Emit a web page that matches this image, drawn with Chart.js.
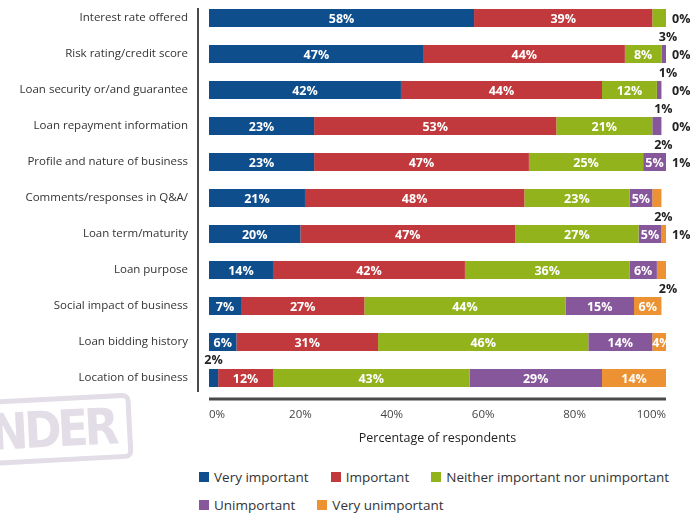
<!DOCTYPE html>
<html>
<head>
<meta charset="utf-8">
<script src="https://cdn.jsdelivr.net/npm/chart.js@4"></script>
<style>
  body { margin: 0; background: #fff; font-family: "Open Sans", sans-serif; }
  #wrap { position: relative; width: 690px; height: 515px; overflow: hidden; }
  #chart { position: absolute; left: 0; top: 0; }
  #stamp {
    position: absolute; left: -40px; top: 397px; width: 150px; height: 56px;
    border: 5px solid #e2dde6; border-radius: 8px; transform: rotate(-3deg);
    color: #e2dde6; font: bold 50px/56px "DejaVu Sans Condensed", sans-serif;
    text-align: right; padding-right: 12px; letter-spacing: -4px;
  }
  #legend { position: absolute; left: 199px; top: 468px; width: 491px; font-size: 13.5px; color: #333; }
  #legend .row { display: flex; height: 28px; align-items: flex-start; }
  #legend .item { display: flex; align-items: center; margin-right: 22px; height: 18px; white-space: nowrap; }
  #legend .box { width: 10px; height: 10px; margin-right: 5px; }
</style>
</head>
<body>
<div id="wrap">
  <div id="stamp">NDER</div>
  <canvas id="chart" width="690" height="455"></canvas>
  <div id="legend"></div>
</div>
<script>
const categories = [
  'Interest rate offered',
  'Risk rating/credit score',
  'Loan security or/and guarantee',
  'Loan repayment information',
  'Profile and nature of business',
  'Comments/responses in Q&A/',
  'Loan term/maturity',
  'Loan purpose',
  'Social impact of business',
  'Loan bidding history',
  'Location of business',
];

const seriesNames = [
  'Very important',
  'Important',
  'Neither important nor unimportant',
  'Unimportant',
  'Very unimportant',
];

const veryImportant = [58, 47, 42, 23, 23, 21, 20, 14, 7, 6, 2];
const important = [39, 44, 44, 53, 47, 48, 47, 42, 27, 31, 12];
const neither = [3, 8, 12, 21, 25, 23, 27, 36, 44, 46, 43];
const unimportant = [0, 1, 1, 2, 5, 5, 5, 6, 15, 14, 29];
const veryUnimportant = [0, 0, 0, 0, 1, 2, 1, 2, 6, 4, 14];

const xTicks = [0, 20, 40, 60, 80, 100];

const colors = ['#0f4e8d', '#c1393c', '#93b31c', '#87579b', '#ec9232'];
const seriesData = [veryImportant, important, neither, unimportant, veryUnimportant];

// labels inside the bars, small ones outside
const segLabels = {
  id: 'segLabels',
  afterDatasetsDraw(chart) {
    const ctx = chart.ctx;
    const n = chart.data.datasets.length;
    ctx.save();
    ctx.font = 'bold 12.5px "Open Sans"';
    ctx.textBaseline = 'middle';
    ctx.textAlign = 'center';
    chart.data.datasets.forEach((ds, di) => {
      const meta = chart.getDatasetMeta(di);
      meta.data.forEach((bar, i) => {
        const v = ds.data[i];
        const txt = v + '%';
        const last = di === n - 1;
        if (v >= 4) {
          ctx.fillStyle = '#fff';
          ctx.fillText(txt, (bar.x + bar.base) / 2, bar.y + 1);
        } else if (last && v <= 1) {
          ctx.fillStyle = '#222';
          ctx.textAlign = 'left';
          ctx.fillText(txt, chart.chartArea.right + 6, bar.y + 1);
          ctx.textAlign = 'center';
        } else if (v === 0) {
          return;
        } else if (di === 0) {
          ctx.fillStyle = '#222';
          ctx.fillText(txt, (bar.x + bar.base) / 2, bar.y - 18);
        } else {
          ctx.fillStyle = '#222';
          ctx.fillText(txt, bar.x + 2, bar.y + 19);
        }
      });
    });
    ctx.restore();
  },
};

// axis lines sit a bit outside the plot area
const axisLines = {
  id: 'axisLines',
  afterDraw(chart) {
    const { ctx, chartArea } = chart;
    ctx.save();
    ctx.strokeStyle = '#4a4a4a';
    ctx.lineWidth = 2;
    ctx.beginPath();
    ctx.moveTo(chartArea.left - 11, chartArea.top + 8);
    ctx.lineTo(chartArea.left - 11, chartArea.bottom - 4);
    ctx.stroke();
    ctx.lineWidth = 3;
    ctx.beginPath();
    ctx.moveTo(chartArea.left, chartArea.bottom + 3);
    ctx.lineTo(chartArea.right, chartArea.bottom + 3);
    ctx.stroke();
    ctx.restore();
  },
};

new Chart(document.getElementById('chart'), {
  type: 'bar',
  data: {
    labels: categories,
    datasets: seriesNames.map((name, k) => ({
      label: name,
      data: seriesData[k],
      backgroundColor: colors[k],
      borderWidth: 0,
      barPercentage: 0.5,
      categoryPercentage: 1,
    })),
  },
  options: {
    indexAxis: 'y',
    responsive: false,
    animation: false,
    layout: { padding: { top: 0, right: 24, left: 0, bottom: 0 } },
    plugins: {
      legend: { display: false },
      tooltip: { enabled: false },
    },
    scales: {
      x: {
        stacked: true,
        min: 0,
        max: 100,
        afterBuildTicks: (s) => { s.ticks = xTicks.map((v) => ({ value: v })); },
        afterFit: (s) => { s.height = 59; },
        grid: { display: false },
        border: { display: false },
        ticks: {
          align: 'inner',
          padding: 4,
          color: '#444',
          font: { family: 'Open Sans', size: 11.5 },
          callback: (v) => v + '%',
        },
        title: {
          display: true,
          text: 'Percentage of respondents',
          color: '#222',
          font: { family: 'Open Sans', size: 12.5 },
          padding: { top: 10, bottom: 9 },
        },
      },
      y: {
        stacked: true,
        afterFit: (s) => { s.width = 209; s.paddingTop = 0; s.paddingBottom = 0; },
        grid: { display: false },
        border: { display: false },
        ticks: {
          padding: 13,
          color: '#333',
          font: { family: 'Open Sans', size: 11.5 },
        },
      },
    },
  },
  plugins: [segLabels, axisLines],
});

// legend in two rows as in the original
const legendRows = [[0, 1, 2], [3, 4]];
const legend = document.getElementById('legend');
legendRows.forEach((row) => {
  const r = document.createElement('div');
  r.className = 'row';
  row.forEach((k) => {
    const it = document.createElement('div');
    it.className = 'item';
    it.innerHTML = '<span class="box" style="background:' + colors[k] + '"></span>' + seriesNames[k];
    r.appendChild(it);
  });
  legend.appendChild(r);
});
</script>
</body>
</html>
